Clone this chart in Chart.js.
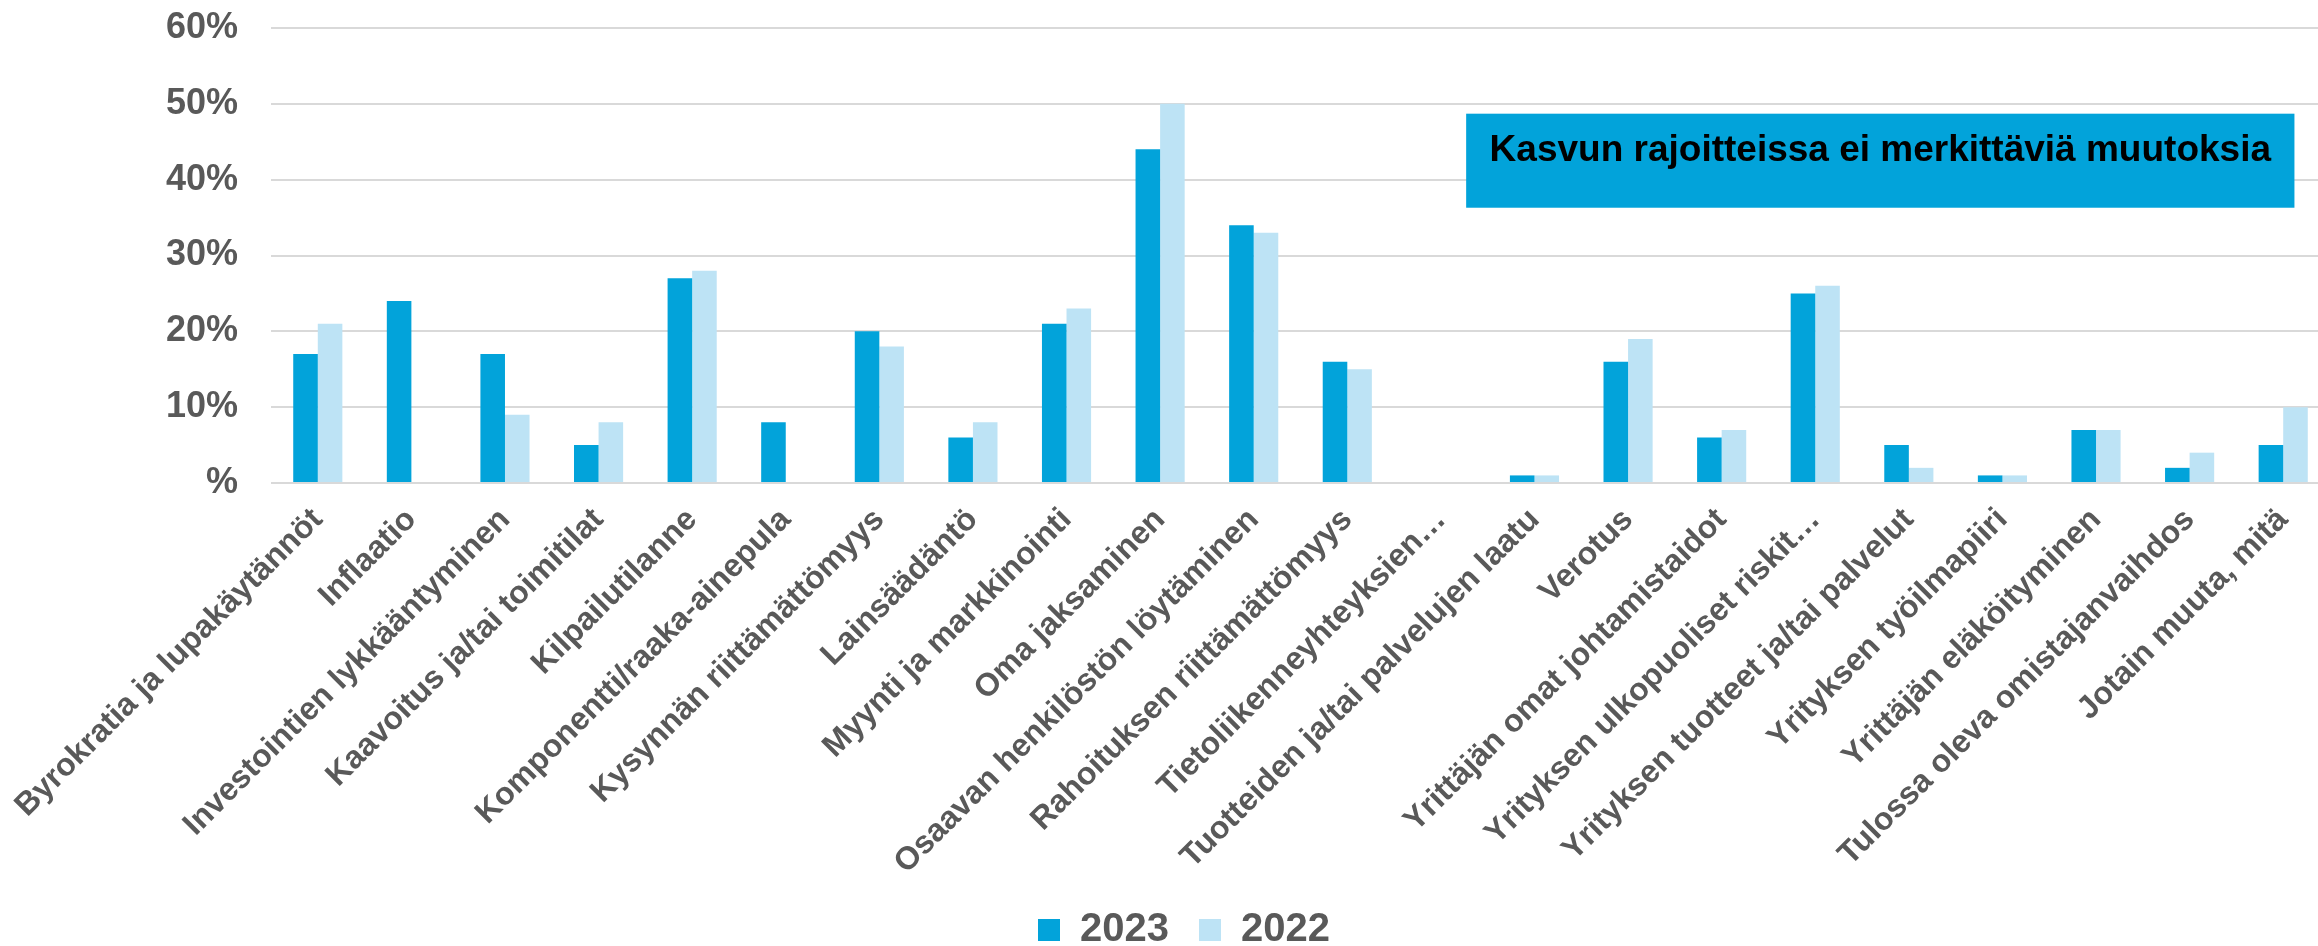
<!DOCTYPE html>
<html>
<head>
<meta charset="utf-8">
<script src="https://cdn.jsdelivr.net/npm/chart.js@4/dist/chart.umd.min.js"></script>
<style>
  html, body { margin: 0; padding: 0; background: #fff; overflow: hidden; }
  /* kuva on rajattu oikealta: kaavio on hieman ikkunaa leveämpi */
  #wrap { width: 2330px; height: 946px; position: relative; }
</style>
</head>
<body>
<div id="wrap"><canvas id="kaavio"></canvas></div>
<script>
// kategoriat ja arvot (%)
var kategoriat = [
    "Byrokratia ja lupakäytännöt", "Inflaatio", "Investointien lykkääntyminen",
    "Kaavoitus ja/tai toimitilat", "Kilpailutilanne", "Komponentti/raaka-ainepula",
    "Kysynnän riittämättömyys", "Lainsäädäntö", "Myynti ja markkinointi",
    "Oma jaksaminen", "Osaavan henkilöstön löytäminen", "Rahoituksen riittämättömyys",
    "Tietoliikenneyhteyksien…", "Tuotteiden ja/tai palvelujen laatu", "Verotus",
    "Yrittäjän omat johtamistaidot", "Yrityksen ulkopuoliset riskit…",
    "Yrityksen tuotteet ja/tai palvelut", "Yrityksen työilmapiiri",
    "Yrittäjän eläköityminen", "Tulossa oleva omistajanvaihdos", "Jotain muuta, mitä"
];
var arvot2023 = [17, 24, 17, 5, 27, 8, 20, 6, 21, 44, 34, 16, 0, 1, 16, 6, 25, 5, 1, 7, 2, 5];
var arvot2022 = [21, null, 9, 8, 28, null, 18, 8, 23, 50, 33, 15, 0, 1, 19, 7, 26, 2, 1, 7, 4, 10];
var yTicks = [0, 10, 20, 30, 40, 50, 60];
var otsikkoTeksti = "Kasvun rajoitteissa ei merkittäviä muutoksia";

var fontti = "'Liberation Sans', Arial, sans-serif";
var harmaa = "#595959";

// laatikon paikka kategoria- ja arvoakselilla
var laatikkoX = [12.27, 21.12];
var laatikkoY = [48.7, 36.3];

var laatikkoPlugin = {
    id: "laatikko",
    afterDatasetsDraw: function (chart) {
        var ctx = chart.ctx;
        var x = chart.scales.x, y = chart.scales.y;
        var x1 = x.getPixelForValue(laatikkoX[0]), x2 = x.getPixelForValue(laatikkoX[1]);
        var y1 = y.getPixelForValue(laatikkoY[0]), y2 = y.getPixelForValue(laatikkoY[1]);
        ctx.save();
        ctx.fillStyle = "#02A3DA";
        ctx.fillRect(x1, y1, x2 - x1, y2 - y1);
        ctx.fillStyle = "#000";
        ctx.font = "bold 37px " + fontti;
        ctx.textAlign = "center";
        ctx.textBaseline = "alphabetic";
        ctx.fillText(otsikkoTeksti, (x1 + x2) / 2, y1 + 47);
        ctx.restore();
    }
};

var ctx = document.getElementById("kaavio").getContext("2d");
new Chart(ctx, {
    type: "bar",
    data: {
        labels: kategoriat,
        datasets: [
            { label: "2023", data: arvot2023, backgroundColor: "#02A3DA" },
            { label: "2022", data: arvot2022, backgroundColor: "#BDE3F5" }
        ]
    },
    options: {
        responsive: true,
        maintainAspectRatio: false,
        animation: false,
        layout: { padding: { top: 28, right: 0, left: 38, bottom: -14 } },
        datasets: { bar: { categoryPercentage: 0.525, barPercentage: 1.0 } },
        plugins: {
            tooltip: { enabled: false },
            legend: {
                position: "bottom",
                labels: {
                    color: harmaa,
                    font: { family: fontti, size: 40, weight: "bold" },
                    boxWidth: 22,
                    boxHeight: 22,
                    padding: 30
                }
            }
        },
        scales: {
            x: {
                afterFit: function (scale) {
                    scale.height = 397;
                    scale.paddingLeft = 0;
                    scale.paddingRight = 0;
                },
                grid: { display: false },
                border: { display: false },
                ticks: {
                    color: harmaa,
                    autoSkip: false,
                    minRotation: 45,
                    maxRotation: 45,
                    padding: 10,
                    font: { family: fontti, size: 32, weight: "bold" }
                }
            },
            y: {
                min: 0,
                max: 60,
                afterFit: function (scale) {
                    scale.width = 233;
                    scale.paddingTop = 0;
                    scale.paddingBottom = 0;
                },
                afterBuildTicks: function (scale) {
                    scale.ticks = yTicks.map(function (v) { return { value: v }; });
                },
                grid: { color: "#D9D9D9", lineWidth: 2, drawTicks: false },
                border: { display: false },
                ticks: {
                    color: harmaa,
                    padding: 33,
                    font: { family: fontti, size: 36, weight: "bold" },
                    callback: function (v) { return v === 0 ? "%" : v + "%"; }
                }
            }
        }
    },
    plugins: [laatikkoPlugin]
});
</script>
</body>
</html>
